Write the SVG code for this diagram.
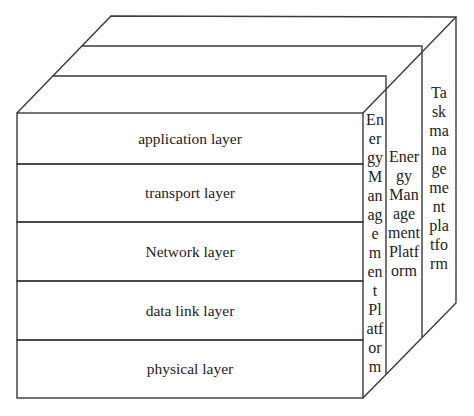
<svg xmlns="http://www.w3.org/2000/svg" width="474" height="416" viewBox="0 0 474 416">
<style>
.ln{fill:none;stroke:#3a3a3a;stroke-width:1.4;stroke-linejoin:miter}
.t{font-family:"Liberation Serif","DejaVu Serif",serif;font-size:15.5px;fill:#222222;text-anchor:middle}
.s{font-size:16px}
</style>
<rect width="474" height="416" fill="#ffffff"/>
<g id="outline">
<polyline class="ln" points="17,113 111,16 456,17 456,303 363,398"/>
<line class="ln" x1="363" y1="113" x2="456" y2="17"/>
<polyline class="ln" points="53,76 386,76 386,374"/>
<polyline class="ln" points="82,46 422,46 422,337"/>
</g>
<g id="application-layer">
<rect class="ln" x="17" y="113" width="346" height="51"/>
<text class="t" x="190" y="143.5">application layer</text>
</g>
<g id="transport-layer">
<rect class="ln" x="17" y="164" width="346" height="58"/>
<text class="t" x="190" y="198">transport layer</text>
</g>
<g id="network-layer">
<rect class="ln" x="17" y="222" width="346" height="59"/>
<text class="t" x="190" y="256.5">Network layer</text>
</g>
<g id="data-link-layer">
<rect class="ln" x="17" y="281" width="346" height="59"/>
<text class="t" x="190" y="315.5">data link layer</text>
</g>
<g id="physical-layer">
<rect class="ln" x="17" y="340" width="346" height="58"/>
<text class="t" x="190" y="374">physical layer</text>
</g>
<g id="energy-management-platform-1">
<text class="t s" x="375"><tspan x="375" y="125">En</tspan><tspan x="375" y="144">er</tspan><tspan x="375" y="163">gy</tspan><tspan x="375" y="182">M</tspan><tspan x="375" y="201">an</tspan><tspan x="375" y="220">ag</tspan><tspan x="375" y="239">e</tspan><tspan x="375" y="258">m</tspan><tspan x="375" y="277">en</tspan><tspan x="375" y="296">t</tspan><tspan x="375" y="315">Pl</tspan><tspan x="375" y="334">atf</tspan><tspan x="375" y="353">or</tspan><tspan x="375" y="372">m</tspan></text>
</g>
<g id="energy-management-platform-2">
<text class="t s" x="404"><tspan x="404" y="162">Ener</tspan><tspan x="404" y="181">gy</tspan><tspan x="404" y="200">Man</tspan><tspan x="404" y="219">age</tspan><tspan x="404" y="238">ment</tspan><tspan x="404" y="257">Platf</tspan><tspan x="404" y="276">orm</tspan></text>
</g>
<g id="task-management-platform">
<text class="t s" x="439"><tspan x="439" y="98">Ta</tspan><tspan x="439" y="117">sk</tspan><tspan x="439" y="136">ma</tspan><tspan x="439" y="155">na</tspan><tspan x="439" y="174">ge</tspan><tspan x="439" y="193">me</tspan><tspan x="439" y="212">nt</tspan><tspan x="439" y="231">pla</tspan><tspan x="439" y="250">tfo</tspan><tspan x="439" y="269">rm</tspan></text>
</g>
</svg>
